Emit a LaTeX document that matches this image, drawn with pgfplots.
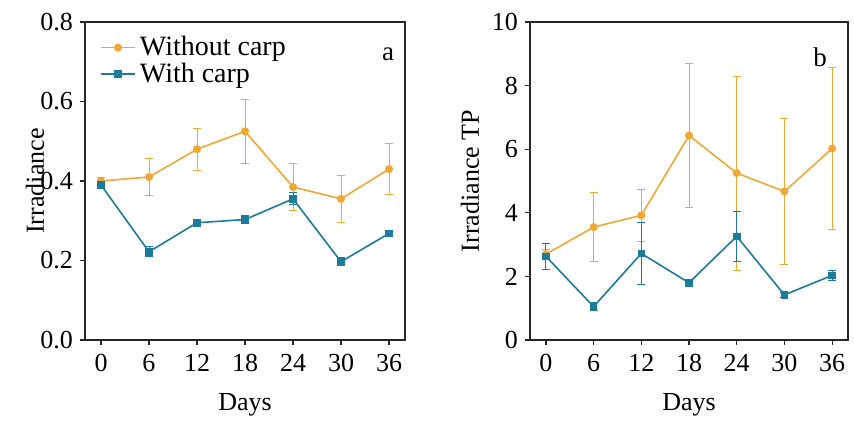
\documentclass[border=0pt]{standalone}
\usepackage{fontspec}
\setmainfont{Liberation Serif}
\usepackage{pgfplots}
\pgfplotsset{compat=1.18}
\definecolor{corange}{RGB}{240,168,52}
\definecolor{cblue}{RGB}{28,122,155}
\pgfplotsset{
  myax/.style={
    scale only axis, width=160pt, height=159pt,
    xmin=-2, xmax=38, xtick={0,6,12,18,24,30,36},
    axis line style={line width=0.9pt, black!85},
    tick style={black!85, line width=0.6pt},
    tick align=outside, major tick length=2.5pt,
    xtick pos=bottom, ytick pos=left,
    /pgf/number format/assume math mode=true,
    tick label style={font=\fontsize{13}{14}\selectfont},
    label style={font=\fontsize{13}{14}\selectfont},
    xticklabel style={yshift=-1pt},
    xlabel={Days},
    xlabel style={at={(axis description cs:0.5,0)}, anchor=center, yshift=-32.5pt},
    error bars/error bar style={line width=0.5pt},
    error bars/error mark options={rotate=90, mark size=2pt, line width=0.5pt},
  },
  orser/.style={color=corange, line width=0.8pt, mark=*, mark size=1.6pt,
    mark options={solid, fill=corange, draw=corange},
    error bars/.cd, y dir=both, y explicit},
  blser/.style={color=cblue, line width=0.8pt, mark=square*, mark size=1.5pt,
    mark options={solid, fill=cblue, draw=cblue},
    error bars/.cd, y dir=both, y explicit},
}
\begin{document}
\begin{tikzpicture}
\begin{axis}[myax, name=a,
  ymin=0, ymax=0.8, ytick={0,0.2,0.4,0.6,0.8},
  yticklabel style={/pgf/number format/fixed, /pgf/number format/fixed zerofill, /pgf/number format/precision=1},
  ylabel={Irradiance},
  ylabel style={at={(axis description cs:0,0.5)}, anchor=center, yshift=25pt},
  legend style={at={(0.04,0.975)}, anchor=north west, draw=none, fill=none,
    font=\fontsize{14}{14}\selectfont, row sep=-2pt, inner sep=1pt},
  legend cell align=left,
]
\addplot[orser] coordinates {
 (0,0.400) +- (0,0.008)
 (6,0.410) +- (0,0.047)
 (12,0.480) +- (0,0.053)
 (18,0.525) +- (0,0.080)
 (24,0.385) +- (0,0.060)
 (30,0.355) +- (0,0.060)
 (36,0.430) +- (0,0.065)
};
\addlegendentry{Without carp}
\addplot[blser] coordinates {
 (0,0.390) +- (0,0.008)
 (6,0.222) +- (0,0.012)
 (12,0.295) +- (0,0.006)
 (18,0.303) +- (0,0.010)
 (24,0.355) +- (0,0.015)
 (30,0.197) +- (0,0.010)
 (36,0.268) +- (0,0.006)
};
\addlegendentry{With carp}
\node[font=\fontsize{13.5}{14}\selectfont] at (axis cs:35.9,0.72) {a};
\end{axis}
\begin{axis}[myax, name=b, at={(222.5pt,0)}, width=159pt,
  ymin=0, ymax=10, ytick={0,2,4,6,8,10},
  ylabel={Irradiance TP},
  ylabel style={at={(axis description cs:0,0.5)}, anchor=center, yshift=30pt},
]
\addplot[orser] coordinates {
 (0,2.70) +- (0,0.15)
 (6,3.55) +- (0,1.08)
 (12,3.92) +- (0,0.82)
 (18,6.43) +- (0,2.25)
 (24,5.25) +- (0,3.05)
 (30,4.67) +- (0,2.30)
 (36,6.02) +- (0,2.55)
};
\addplot[blser] coordinates {
 (0,2.63) +- (0,0.42)
 (6,1.05) +- (0,0.12)
 (12,2.72) +- (0,0.97)
 (18,1.80) +- (0,0.10)
 (24,3.26) +- (0,0.78)
 (30,1.42) +- (0,0.07)
 (36,2.03) +- (0,0.17)
};
\node[font=\fontsize{13.5}{14}\selectfont] at (axis cs:34.5,8.9) {b};
\end{axis}
\path[use as bounding box] (-42.5pt,-41.5pt) rectangle (384.5pt,170pt);
\end{tikzpicture}
\end{document}
